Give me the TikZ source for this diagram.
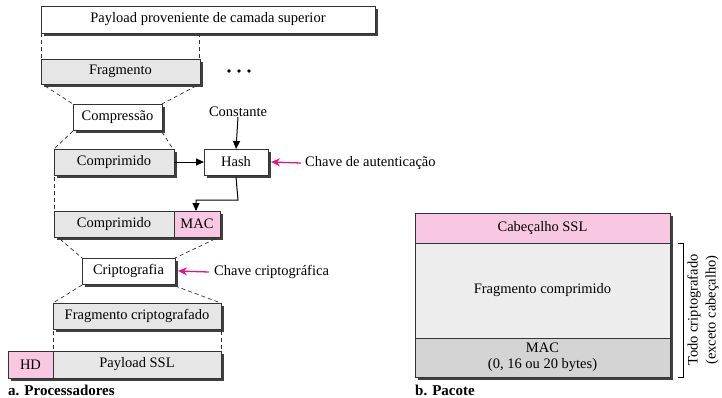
\documentclass[tikz,border=0pt]{standalone}
\usepackage{fontspec}
\setmainfont{Liberation Serif}
\usetikzlibrary{arrows.meta}
\definecolor{pinkfill}{HTML}{F8C8E2}
\definecolor{grayfill}{HTML}{E6E6E6}
\definecolor{lightfill}{HTML}{EDEDED}
\definecolor{darkgrayfill}{HTML}{D4D4D4}
\definecolor{keypink}{HTML}{E4147F}
\definecolor{shadowcol}{HTML}{404040}
\tikzset{
  box/.style={draw=black!80, line width=0.7pt, inner sep=0pt, outer sep=0pt, anchor=north west,
    font=\fontsize{14.5}{16}\selectfont},
  wbox/.style={box, fill=white},
  gbox/.style={box, fill=grayfill},
  pbox/.style={box, fill=pinkfill},
  dash line/.style={draw=black!80, line width=0.7pt, dash pattern=on 4pt off 3pt},
  flow/.style={draw=black, line width=1pt, -{Triangle[length=8pt,width=7pt]}},
  keyarrow/.style={draw=keypink, line width=1.3pt, -{Stealth[length=9pt,width=8pt]}},
  lbl/.style={font=\fontsize{14.5}{16}\selectfont, inner sep=0pt},
  captxt/.style={font=\fontsize{15}{17}\selectfont\bfseries, inner sep=0pt, anchor=west}
}
% #1 style, #2 name, #3 x, #4 y, #5 width, #6 height, #7 text
\newcommand\shbox[7]{%
  \fill[shadowcol] ({#3+2.5},{#4+2.5}) rectangle ({#3+#5+2.5},{#4+#6+2.5});
  \node[#1, minimum width=#5pt, minimum height=#6pt] (#2) at (#3,#4) {#7};}
\begin{document}
\begin{tikzpicture}[x=1pt,y=-1pt]
\useasboundingbox (0,0) rectangle (722,397);
% left column
\shbox{wbox}{pay}{41}{6}{334}{27}{Payload proveniente de camada superior}
\shbox{gbox}{frag}{41}{59}{159}{25}{Fragmento}
\shbox{wbox}{comp}{73}{104}{89}{26}{Compressão}
\shbox{gbox}{cmp1}{54}{149}{120}{26}{Comprimido}
\shbox{wbox}{hash}{204}{149}{64}{26}{Hash}
\shbox{gbox}{cmp2}{54}{211}{120}{26}{Comprimido}
\shbox{pbox}{mac}{174}{211}{46}{26}{MAC}
\shbox{wbox}{crip}{82}{258}{93}{26}{Criptografia}
\shbox{gbox}{fcrip}{53}{303}{168}{26}{Fragmento criptografado}
\shbox{pbox}{hd}{8}{351}{45}{27}{HD}
\shbox{gbox}{pssl}{53}{351}{168}{27}{Payload SSL}

% right packet
\fill[shadowcol] (417.5,215.5) rectangle (672.5,379.5);
\node[pbox, minimum width=255pt, minimum height=30pt] (hdr) at (415,213) {Cabeçalho SSL};
\node[box, fill=lightfill, minimum width=255pt, minimum height=95pt] (fc) at (415,243) {Fragmento comprimido};
\node[box, fill=darkgrayfill, minimum width=255pt, minimum height=39pt, align=center] (pmac) at (415,338) {MAC\\(0, 16 ou 20 bytes)};

% dots
\foreach \dx in {229,239,249} \fill (\dx,71) circle (1.9pt);

% dashed connectors
\draw[dash line] (pay.south west) -- (frag.north west);
\draw[dash line] ([xshift=-0.5pt]frag.north east |- pay.south) -- ([xshift=-0.5pt]frag.north east);
\draw[dash line] ([xshift=4pt,yshift=-2pt]frag.south west) -- (comp.north west);
\draw[dash line] ([xshift=-4pt,yshift=-2pt]frag.south east) -- (comp.north east);
\draw[dash line] ([yshift=-1pt]comp.south west) -- (cmp1.north west);
\draw[dash line] ([yshift=-2pt]comp.south east) -- ([xshift=-1pt]cmp1.north east);
\draw[dash line] ([yshift=-2pt]cmp1.south west) -- (cmp2.north west);
\draw[dash line] ([xshift=6pt,yshift=-2pt]cmp2.south west) -- (crip.north west);
\draw[dash line] ([xshift=-5pt,yshift=-2pt]mac.south east) -- (crip.north east);
\draw[dash line] ([yshift=-1pt]crip.south west) -- (fcrip.north west);
\draw[dash line] ([yshift=-2pt]crip.south east) -- (fcrip.north east);
\draw[dash line] ([yshift=-2pt]fcrip.south west) -- (pssl.north west);
\draw[dash line] ([yshift=-2pt]fcrip.south east) -- (pssl.north east);

% flow arrows
\node[lbl] (const) at (238,112) {Constante};
\draw[flow] (const.south) -- (hash.north);
\draw[flow] (cmp1.east) -- (hash.west);
\coordinate (bend) at (238,200);
\draw[flow] ([yshift=-2pt]hash.south) -- (bend) -| ([xshift=-1pt]mac.north);

% key arrows
\node[lbl, anchor=west] (akey) at (305,163) {Chave de autenticação};
\draw[keyarrow] ([xshift=-4pt]akey.west) -- ([xshift=3pt]hash.east);
\node[lbl, anchor=west] (ckey) at (214,272) {Chave criptográfica};
\draw[keyarrow] ([xshift=-5pt]ckey.west) -- ([xshift=3pt]crip.east);

\node[captxt] (capa) at (8,390) {a. Processadores};

% bracket
\coordinate (bt) at (678,243);
\coordinate (bb) at (678,377);
\draw[line width=0.7pt] (bt) -- ++(5,0) coordinate (bt2) -- (bb -| bt2) -- (bb);
\node[lbl, rotate=90, align=center, font=\fontsize{14.5}{18}\selectfont] (brl) at (703,310) {Todo criptografado\\(exceto cabeçalho)};
\node[captxt] (capb) at (415,390) {b. Pacote};
\end{tikzpicture}
\end{document}
